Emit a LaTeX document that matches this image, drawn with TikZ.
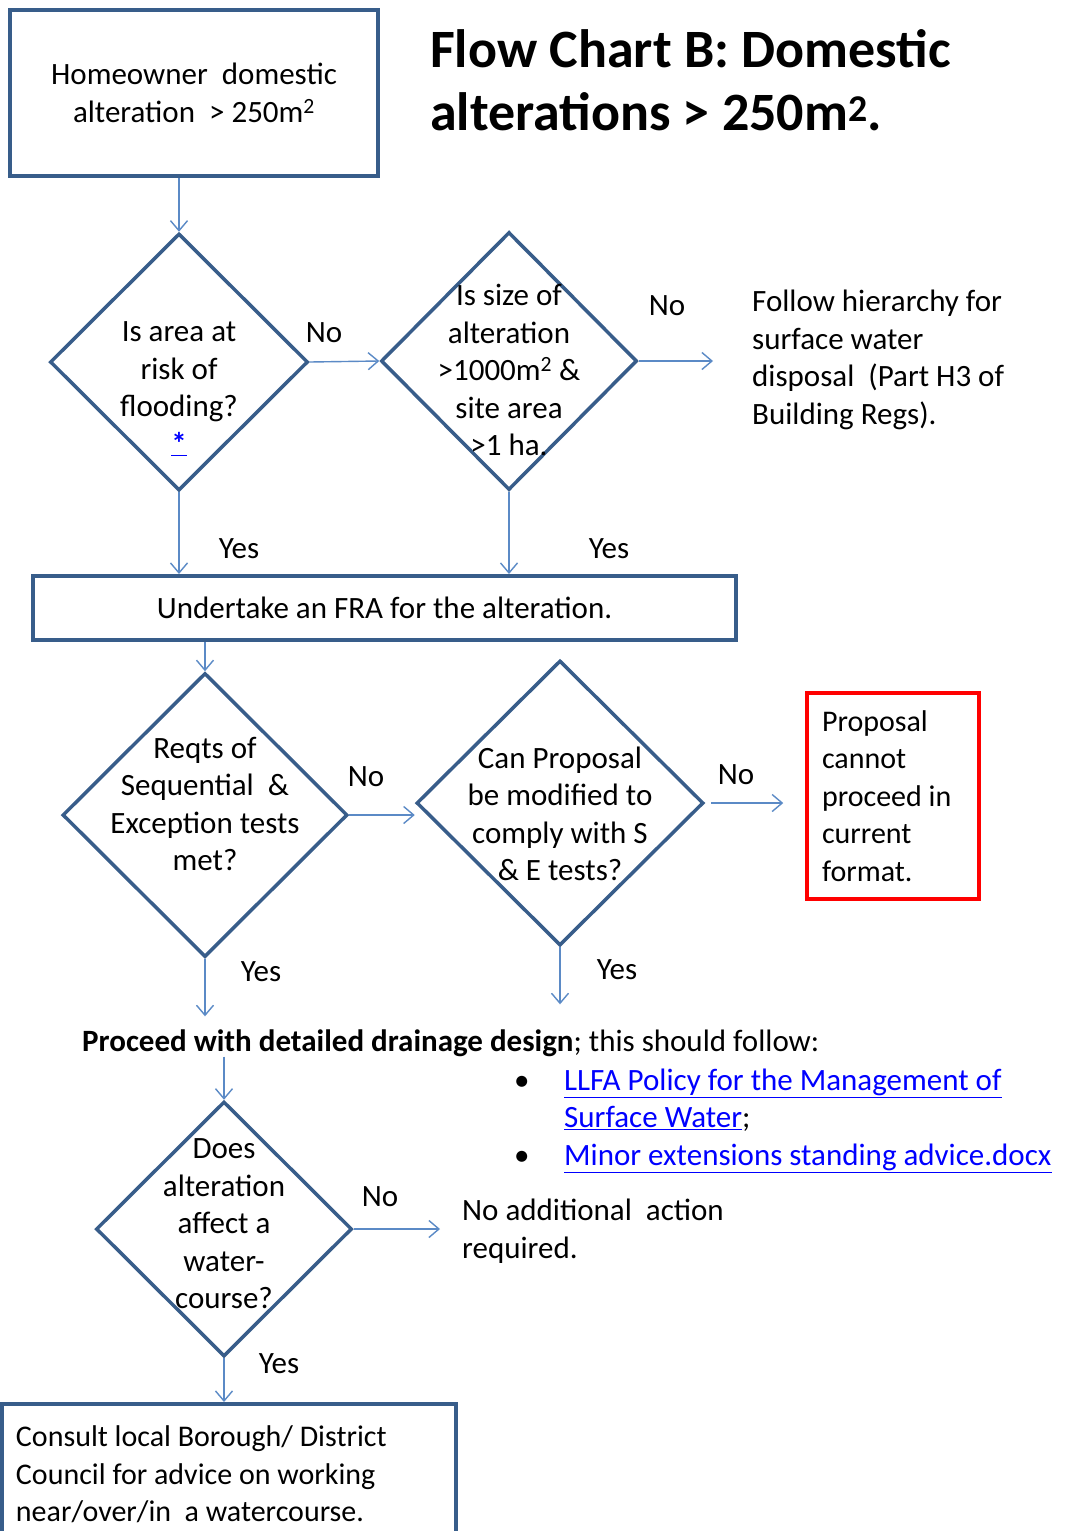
\documentclass[tikz,border=0pt]{standalone}
\usepackage{fontspec}
\setmainfont{Carlito}
\usetikzlibrary{shapes.geometric}
\usetikzlibrary{arrows.meta}
\usetikzlibrary{positioning}
\definecolor{boxblue}{HTML}{385D8A}
\definecolor{flowblue}{HTML}{5B8AC6}
\definecolor{linkblue}{HTML}{0000FF}
\definecolor{stopred}{HTML}{FF0000}
\newcommand{\chartsize}{\fontsize{31}{37.5}\selectfont}
\newcommand{\boxsize}{\fontsize{30}{37.5}\selectfont\spaceskip=0pt\relax}
\newcommand{\weblink}[1]{\textcolor{linkblue}{\underline{#1}}}

\tikzset{
    box/.style={draw=boxblue, line width=4pt, inner sep=0pt},
    decision/.style={diamond, draw=boxblue, line width=3.5pt, inner sep=0pt},
    qtext/.style={font=\chartsize, align=center, inner sep=0pt},
    lbl/.style={font=\chartsize, inner sep=0pt},
    flow/.style={draw=flowblue, line width=1.4pt, -{Straight Barb[length=10pt,width=17pt,line width=1.4pt]}},
}

\begin{document}
\begin{tikzpicture}[x=1pt,y=-1pt]
    \useasboundingbox[fill=white] (0,0) rectangle (1066,1531);

    % start box and title
    \node[box, minimum width=368pt, minimum height=166pt, font=\chartsize, align=center] (home) at (194,93) {Homeowner\ \ domestic\\alteration\ \ > 250m\textsuperscript{2}};
    \node[font=\fontsize{54}{63}\selectfont\bfseries, align=left, anchor=north west, inner sep=0pt] (title) at (430,29) {Flow Chart B: Domestic\\alterations > 250m\textsuperscript{2}.};

    % first row of questions
    \node[decision, minimum width=258pt, minimum height=257pt] (risk) at (179,362) {};
    \node[qtext] (risktxt) at ([yshift=-27pt]risk.center) {Is area at\\risk of\\flooding?\\\weblink{\textbf{*}}};
    \node[decision, minimum width=256pt, minimum height=258pt] (size) at (509,361) {};
    \node[qtext] (sizetxt) at ([yshift=-9pt]size.center) {Is size of\\alteration\\>1000m\textsuperscript{2} \&\\site area\\>1 ha.};
    \node[lbl, align=left, anchor=west] (hier) at (752,360) {Follow hierarchy for\\surface water\\disposal\ \ (Part H3 of\\Building Regs).};

    \node[box, minimum width=703pt, minimum height=64pt, font=\chartsize] (fra) at (384.5,608) {Undertake an FRA for the alteration.};

    % second row of questions
    \node[decision, minimum width=285pt, minimum height=284pt] (seq) at (205,815) {};
    \node[qtext] (seqtxt) at ([yshift=11pt]seq.center) {Reqts of\\Sequential\ \ \&\\Exception tests\\met?};
    \node[decision, minimum width=287pt, minimum height=285pt] (mod) at (560,803) {};
    \node[qtext] (modtxt) at ([yshift=-11pt]mod.center) {Can Proposal\\be modified to\\comply with S\\\& E tests?};
    \node[draw=stopred, line width=3.5pt, minimum width=172pt, minimum height=206pt, inner xsep=15pt, text width=142pt, align=left, font=\boxsize] (stop) at (893,796) {\spaceskip=0pt Proposal\\cannot\\proceed in\\current\\format.};

    % design stage
    \node[lbl, anchor=west] (proc) at (82,1043) {\textbf{Proceed with detailed drainage design}; this should follow:};
    \node[lbl, anchor=west] (links) at (514,1120) {\begin{tabular}{@{}p{50pt}@{}l@{}}
        \textbullet & \weblink{LLFA Policy for the Management of}\\
                    & \weblink{Surface Water};\\
        \textbullet & \weblink{Minor extensions standing advice.docx}
    \end{tabular}};

    \node[decision, minimum width=256pt, minimum height=255pt] (wc) at (224,1229) {};
    \node[qtext] (wctxt) at ([yshift=5pt]wc.center) {Does\\alteration\\affect a\\water-\\course?};
    \node[lbl, align=left, anchor=west] (noact) at (462,1231) {No additional\ \ action\\required.};
    \node[box, minimum width=454pt, minimum height=141pt, inner xsep=14pt, text width=426pt, align=left, font=\boxsize] (consult) at (229,1474.5) {\spaceskip=0pt Consult local Borough/ District\\Council for advice on working\\near/over/in\ \ a watercourse.};

    % answers
    \node[lbl] (no1) at (324,333) {No};
    \node[lbl] (no2) at (667,306) {No};
    \node[lbl] (yes1) at (239,549) {Yes};
    \node[lbl] (yes2) at (609,549) {Yes};
    \node[lbl] (no3) at (366,777) {No};
    \node[lbl] (no4) at (736,775) {No};
    \node[lbl] (yes3) at (261,972) {Yes};
    \node[lbl] (yes4) at (617,970) {Yes};
    \node[lbl] (no5) at (380,1197) {No};
    \node[lbl] (yes5) at (279,1364) {Yes};

    % connectors
    \draw[flow] (risk.north |- home.south) -- (risk.north);
    \draw[flow] (risk.east) -- (size.west);
    \draw[flow, shorten >=39pt] (size.east) -- (size.east -| hier.west);
    \draw[flow] (risk.south) -- (risk.south |- fra.north);
    \draw[flow] (size.south) -- (size.south |- fra.north);
    \draw[flow] (seq.north |- fra.south) -- (seq.north);
    \draw[flow] (seq.east) -- (seq.east -| mod.west);
    \draw[flow, shorten <=6pt, shorten >=22pt] (mod.east) -- (mod.east -| stop.west);
    \draw[flow, shorten >=13pt] (seq.south) -- (seq.south |- proc.north);
    \draw[flow, shorten >=25pt] (mod.south) -- (mod.south |- proc.north);
    \draw[flow] (wc.north |- proc.south) -- (wc.north);
    \draw[flow, shorten >=22pt] (wc.east) -- (wc.east -| noact.west);
    \draw[flow] (wc.south) -- (wc.south |- consult.north);
\end{tikzpicture}
\end{document}
